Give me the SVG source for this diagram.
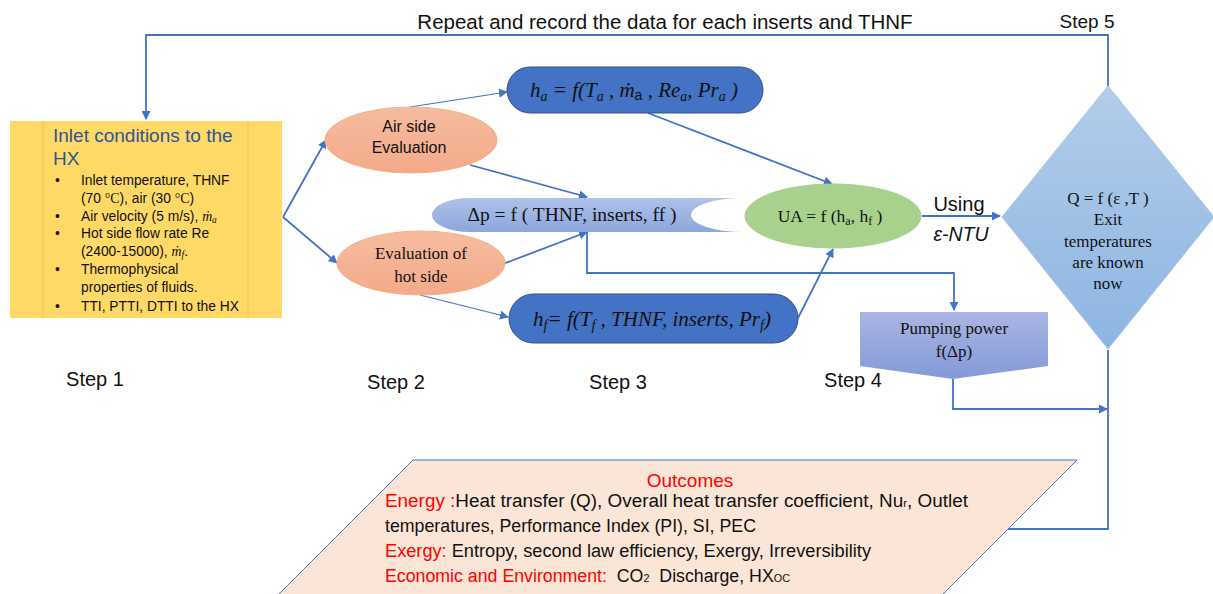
<svg xmlns="http://www.w3.org/2000/svg" width="1213" height="594" viewBox="0 0 1213 594">
  <style>
    .sans { font-family: "Liberation Sans", Arial, sans-serif; fill: #111; }
    .serif { font-family: "Liberation Serif", "Times New Roman", serif; fill: #111; }
    .it { font-style: italic; }
    .conn { fill: none; stroke: #4472C4; stroke-width: 1.8; }
    .thin { fill: none; stroke: #4472C4; stroke-width: 1.1; }
    .red { fill: #FF0000; }
  </style>
  <defs>
    <marker id="arrowL" viewBox="0 0 10 10" refX="9" refY="5" markerWidth="9" markerHeight="9" orient="auto" markerUnits="userSpaceOnUse">
      <path d="M0,0 L10,5 L0,10 z" fill="#4472C4"/>
    </marker>
    <linearGradient id="gSalmon" x1="0" y1="0" x2="0" y2="1">
      <stop offset="0" stop-color="#F6BCA0"/>
      <stop offset="1" stop-color="#F4A98A"/>
    </linearGradient>
    <linearGradient id="gDp" x1="0" y1="0" x2="0" y2="1">
      <stop offset="0" stop-color="#AFC1E8"/>
      <stop offset="1" stop-color="#8CA6DC"/>
    </linearGradient>
    <linearGradient id="gDiamond" x1="0" y1="0" x2="0" y2="1">
      <stop offset="0" stop-color="#B3CDEA"/>
      <stop offset="1" stop-color="#8DB5E2"/>
    </linearGradient>
    <linearGradient id="gPump" x1="0" y1="0" x2="0" y2="1">
      <stop offset="0" stop-color="#AAB6E2"/>
      <stop offset="1" stop-color="#8499D8"/>
    </linearGradient>
  </defs>

  <!-- headings -->
  <text class="sans" x="665" y="29" font-size="20.5" text-anchor="middle">Repeat and record the data for each inserts and THNF</text>
  <text class="sans" x="1087" y="28" font-size="19" text-anchor="middle">Step 5</text>
  <text class="sans" x="95" y="386" font-size="20" text-anchor="middle">Step 1</text>
  <text class="sans" x="396" y="389" font-size="20" text-anchor="middle">Step 2</text>
  <text class="sans" x="618" y="389" font-size="20" text-anchor="middle">Step 3</text>
  <text class="sans" x="853" y="387" font-size="20" text-anchor="middle">Step 4</text>

  <!-- connectors -->
  <g id="connectors">
    <polyline class="conn" points="1108,86 1108,35 146,35 146,119" marker-end="url(#arrowL)"/>
    <line class="conn" x1="283" y1="217" x2="326" y2="140" marker-end="url(#arrowL)"/>
    <line class="conn" x1="283" y1="217" x2="337" y2="263" marker-end="url(#arrowL)"/>
    <line class="thin" x1="410" y1="107" x2="507" y2="92" marker-end="url(#arrowL)"/>
    <line class="conn" x1="470" y1="165" x2="587" y2="197" marker-end="url(#arrowL)"/>
    <line class="conn" x1="503" y1="264" x2="587" y2="232" marker-end="url(#arrowL)"/>
    <line class="thin" x1="420" y1="295" x2="508" y2="317" marker-end="url(#arrowL)"/>
    <line class="conn" x1="648" y1="113" x2="832" y2="184" marker-end="url(#arrowL)"/>
    <line class="conn" x1="798" y1="318" x2="833" y2="249" marker-end="url(#arrowL)"/>
    <polyline class="conn" points="587,232 587,273 954,273 954,310" marker-end="url(#arrowL)"/>
    <line class="conn" x1="922" y1="216" x2="1000" y2="216" marker-end="url(#arrowL)"/>
    <polyline class="conn" points="953,379 953,409 1107,409" marker-end="url(#arrowL)"/>
    <polyline class="conn" points="1108,350 1108,529 995,529" marker-end="url(#arrowL)"/>
  </g>

  <!-- Step 1: inlet conditions -->
  <g id="inlet">
    <rect x="10" y="121" width="272" height="197" fill="#FFD966"/>
    <line x1="43" y1="121" x2="43" y2="318" stroke="#F2C44C" stroke-width="1"/>
    <line x1="248" y1="121" x2="248" y2="318" stroke="#F2C44C" stroke-width="1"/>
    <text class="sans" x="53" y="142" font-size="19" style="fill:#2F5597">Inlet conditions to the</text>
    <text class="sans" x="53" y="165" font-size="19" style="fill:#2F5597">HX</text>
    <g font-size="13.8">
      <text class="sans" x="55" y="185">•</text>
      <text class="sans" x="81" y="185">Inlet temperature, THNF</text>
      <text class="sans" x="81" y="203">(70 <tspan class="serif">°C</tspan>), air (30 <tspan class="serif">°C</tspan>)</text>
      <text class="sans" x="55" y="221">•</text>
      <text class="sans" x="81" y="221">Air velocity (5 m/s), <tspan class="serif it">ṁ</tspan><tspan class="serif it" font-size="9.5" dy="2">a</tspan></text>
      <text class="sans" x="55" y="238">•</text>
      <text class="sans" x="81" y="238">Hot side flow rate Re</text>
      <text class="sans" x="81" y="256">(2400-15000), <tspan class="serif it">ṁ</tspan><tspan class="serif it" font-size="9.5" dy="2">f</tspan><tspan dy="-2">.</tspan></text>
      <text class="sans" x="55" y="274">•</text>
      <text class="sans" x="81" y="274">Thermophysical</text>
      <text class="sans" x="81" y="292">properties of fluids.</text>
      <text class="sans" x="55" y="311">•</text>
      <text class="sans" x="81" y="311">TTI, PTTI, DTTI to the HX</text>
    </g>
  </g>

  <!-- Step 2 -->
  <g id="air-side">
    <ellipse cx="411" cy="140" rx="86" ry="33" fill="url(#gSalmon)" stroke="#F4B183" stroke-width="1"/>
    <text class="sans" x="409" y="132" font-size="16" text-anchor="middle">Air side</text>
    <text class="sans" x="409" y="153" font-size="16" text-anchor="middle">Evaluation</text>
  </g>
  <g id="hot-side">
    <ellipse cx="421" cy="263" rx="84" ry="32" fill="url(#gSalmon)" stroke="#F4B183" stroke-width="1"/>
    <text class="serif" x="421" y="259" font-size="17" text-anchor="middle">Evaluation  of</text>
    <text class="serif" x="421" y="282" font-size="17" text-anchor="middle">hot side</text>
  </g>

  <!-- Step 3 -->
  <g id="h-air">
    <rect x="507" y="67" width="256" height="46" rx="23" fill="#4472C4" stroke="#2F528F" stroke-width="1"/>
    <text class="serif it" x="634" y="97" font-size="21" text-anchor="middle">h<tspan font-size="14" dy="4">a</tspan><tspan dy="-4"> = f(T</tspan><tspan font-size="14" dy="4">a</tspan><tspan dy="-4"> , ṁ</tspan><tspan class="sans" font-style="normal" font-size="14" dy="3">a</tspan><tspan dy="-3"> , Re</tspan><tspan font-size="14" dy="4">a</tspan><tspan dy="-4">, Pr</tspan><tspan font-size="14" dy="4">a</tspan><tspan dy="-4"> )</tspan></text>
  </g>
  <g id="pressure-drop">
    <path d="M743,198 H470 A38,17 0 0 0 470,232 H743 A52,17 0 0 1 743,198 Z" fill="url(#gDp)"/>
    <text class="serif" x="572" y="221" font-size="19.5" text-anchor="middle">Δp = f ( THNF, inserts, ff )</text>
  </g>
  <g id="h-fluid">
    <rect x="509" y="294" width="289" height="49" rx="24.5" fill="#4472C4" stroke="#2F528F" stroke-width="1"/>
    <text class="serif it" x="652" y="326" font-size="21" text-anchor="middle">h<tspan font-size="14" dy="4">f</tspan><tspan dy="-4">= f(T</tspan><tspan font-size="14" dy="4">f</tspan><tspan dy="-4"> , THNF, inserts, Pr</tspan><tspan font-size="14" dy="4">f</tspan><tspan dy="-4">)</tspan></text>
  </g>

  <!-- Step 4 -->
  <g id="ua">
    <ellipse cx="833" cy="216" rx="88" ry="32" fill="#A9D18E" stroke="#A9D18E" stroke-width="1"/>
    <text class="serif" x="830" y="222" font-size="17.5" text-anchor="middle">UA = f (h<tspan font-size="12" dy="3">a</tspan><tspan dy="-3">, h</tspan><tspan font-size="12" dy="3">f</tspan><tspan dy="-3"> )</tspan></text>
  </g>
  <text class="sans" x="959" y="211" font-size="20" text-anchor="middle">Using</text>
  <text class="sans it" x="961" y="241" font-size="19.5" text-anchor="middle">ε-NTU</text>
  <g id="pumping-power">
    <polygon points="860,312 1048,312 1048,366 953,379 860,366" fill="url(#gPump)"/>
    <text class="serif" x="954" y="334" font-size="17" text-anchor="middle">Pumping power</text>
    <text class="serif" x="954" y="357" font-size="17" text-anchor="middle">f(Δp)</text>
  </g>

  <!-- Step 5 -->
  <g id="heat-duty">
    <polygon points="1108,86 1214,217 1108,349 1002,217" fill="url(#gDiamond)" stroke="#A9C6E8" stroke-width="1"/>
    <text class="serif" x="1108" y="204" font-size="17" text-anchor="middle">Q = f (ε ,T )</text>
    <text class="serif" x="1108" y="225" font-size="17" text-anchor="middle">Exit</text>
    <text class="serif" x="1108" y="247" font-size="17" text-anchor="middle">temperatures</text>
    <text class="serif" x="1108" y="268" font-size="17" text-anchor="middle">are known</text>
    <text class="serif" x="1108" y="289" font-size="17" text-anchor="middle">now</text>
  </g>

  <!-- Outcomes -->
  <g id="outcomes">
    <polygon points="413,460 1077,460 916,621 252,621" fill="#FBE5D6" stroke="#4472C4" stroke-width="1"/>
    <text class="sans red" x="690" y="487" font-size="19" text-anchor="middle">Outcomes</text>
    <text class="sans" x="385" y="507" font-size="18" textLength="583" lengthAdjust="spacingAndGlyphs"><tspan class="red">Energy :</tspan>Heat transfer (Q), Overall heat transfer coefficient, Nu<tspan font-size="11">r</tspan>, Outlet</text>
    <text class="sans" x="385" y="532" font-size="18" textLength="371" lengthAdjust="spacingAndGlyphs">temperatures, Performance Index (PI), SI, PEC</text>
    <text class="sans" x="385" y="557" font-size="18" textLength="486" lengthAdjust="spacingAndGlyphs"><tspan class="red">Exergy:</tspan> Entropy, second law efficiency, Exergy, Irreversibility</text>
    <text class="sans" x="385" y="582" font-size="18" textLength="405" lengthAdjust="spacingAndGlyphs" xml:space="preserve"><tspan class="red">Economic and Environment:</tspan>  CO<tspan font-size="11">2</tspan>  Discharge, HX<tspan font-size="11">OC</tspan></text>
  </g>
</svg>
